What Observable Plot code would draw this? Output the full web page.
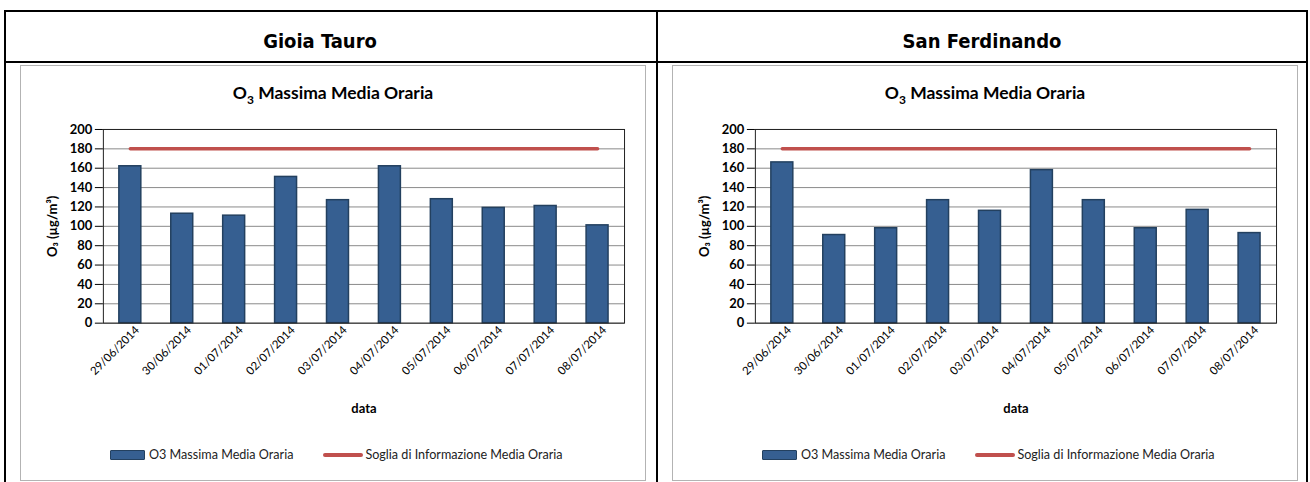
<!DOCTYPE html>
<html><head><meta charset="utf-8">
<script src="https://cdn.jsdelivr.net/npm/d3@7"></script>
<script src="https://cdn.jsdelivr.net/npm/@observablehq/plot@0.6"></script>
<style>
body{margin:0;background:#fff;width:1310px;height:482px;overflow:hidden;position:relative;font-family:Lato,"Open Sans",sans-serif;}
.ln{position:absolute;background:#000;}
.hdr{position:absolute;text-align:center;font-family:"DejaVu Sans Condensed","DejaVu Sans",sans-serif;font-weight:bold;font-size:20px;color:#000;}
.frame{position:absolute;top:65px;width:624px;height:414px;border:1.5px solid #b3b3b3;}
.title{position:absolute;left:0;top:16px;width:100%;text-align:center;font-weight:bold;font-size:17.5px;color:#000;}
.title sub{font-size:12px;}
.chart{position:absolute;left:0;top:50px;}
.legend{position:absolute;left:89px;top:381px;display:flex;align-items:center;font-size:12.6px;color:#222;}
.sw{width:33px;height:8px;background:#365f91;border:1.5px solid #23405f;border-radius:1px;margin-right:4px;}
.sl{width:40px;height:4px;background:#c0504d;border-radius:2px;margin-left:30px;margin-right:2px;}
.chart svg [aria-label="y-axis label"] text, .chart svg [aria-label="x-axis label"] text{font-weight:bold;}
.chart svg [aria-label="x-axis label"] text{font-size:13px;}
</style>
</head><body>
<div class="ln" style="left:4px;top:10px;width:1304px;height:2px"></div>
<div class="ln" style="left:4px;top:61px;width:1304px;height:2px"></div>
<div class="ln" style="left:4px;top:10px;width:2px;height:472px"></div>
<div class="ln" style="left:656px;top:10px;width:2px;height:472px"></div>
<div class="ln" style="left:1306px;top:10px;width:2px;height:472px"></div>
<div class="hdr" style="left:0px;width:640px;top:12px;height:49px;line-height:59px">Gioia Tauro</div>
<div class="hdr" style="left:658px;width:648px;top:12px;height:49px;line-height:59px">San Ferdinando</div>

<div class="frame" id="f1" style="left:20px">
  <div class="title">O<sub>3</sub> Massima Media Oraria</div>
  <div class="chart" id="c1"></div>
  <div class="legend"><div class="sw"></div><span>O3 Massima Media Oraria</span><div class="sl"></div><span>Soglia di Informazione Media Oraria</span></div>
</div>
<div class="frame" id="f2" style="left:672px">
  <div class="title">O<sub>3</sub> Massima Media Oraria</div>
  <div class="chart" id="c2"></div>
  <div class="legend"><div class="sw"></div><span>O3 Massima Media Oraria</span><div class="sl"></div><span>Soglia di Informazione Media Oraria</span></div>
</div>

<script>
const dates = ["29/06/2014","30/06/2014","01/07/2014","02/07/2014","03/07/2014","04/07/2014","05/07/2014","06/07/2014","07/07/2014","08/07/2014"];
const gioiaTauro = [162,113,111,151,127,162,128,119,121,101];
const sanFerdinando = [166,91,98,127,116,158,127,98,117,93];
const threshold = 180;
const yTicks = [0,20,40,60,80,100,120,140,160,180,200];

function chart(values){
  const data = dates.map((d,i)=>({date:d, value:values[i], soglia:threshold}));
  return Plot.plot({
    width:625, height:307, marginTop:13, marginBottom:100, marginLeft:82, marginRight:21,
    style:{fontFamily:"Lato, 'Open Sans', sans-serif", fontSize:"12px", color:"#000", background:"transparent"},
    x:{domain:dates, paddingInner:0.58, paddingOuter:0.29},
    y:{domain:[0,200]},
    marks:[
      Plot.gridY(yTicks,{stroke:"#8a8a8a", strokeOpacity:1, strokeWidth:1}),
      Plot.barY(data,{x:"date", y:"value", fill:"#365f91", stroke:"#23405f", strokeWidth:1.5}),
      Plot.lineY(data,{x:"date", y:"soglia", stroke:"#c0504d", strokeWidth:3.5}),
      Plot.frame({stroke:"#222"}),
      Plot.axisY(yTicks,{tickSize:8, tickPadding:3, label:"O₃ (µg/m³)", labelAnchor:"center", labelArrow:"none", labelOffset:56, fontWeight:"bold", fontSize:13}),
      Plot.axisX({tickSize:0, tickRotate:-45, tickPadding:5, dx:7, label:"data", labelAnchor:"center", labelArrow:"none", labelOffset:90, fontSize:11.5})
    ]
  });
}
document.getElementById("c1").append(chart(gioiaTauro));
document.getElementById("c2").append(chart(sanFerdinando));
</script>
</body></html>
